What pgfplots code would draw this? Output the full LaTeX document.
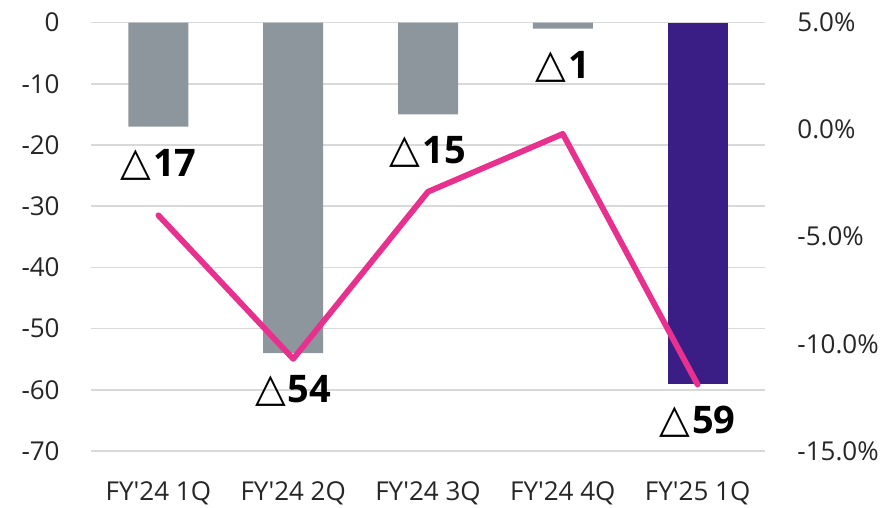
\documentclass[border=0pt]{standalone}
\usepackage{pgfplots}
\pgfplotsset{compat=1.18}
\usepackage{fontspec}
\setmainfont{Open Sans}
\newfontfamily\segoe{Open Sans}
\newfontfamily\symfont{DejaVu Sans}
\definecolor{bargray}{RGB}{142,150,157}
\definecolor{barpurple}{RGB}{59,30,133}
\definecolor{linepink}{RGB}{232,49,142}
\definecolor{gridgray}{RGB}{217,217,217}
\newcommand{\tri}{{\symfont\fontsize{20}{20}\selectfont\raisebox{0.5pt}{\char"25B3}}\hspace{1pt}}
\begin{document}
\begin{tikzpicture}
\begin{axis}[
  at={(45.5pt,28.5pt)}, anchor=south west,
  scale only axis, width=337pt, height=214.25pt,
  xmin=-0.5, xmax=4.5, ymin=-70, ymax=0,
  axis line style={draw=none},
  tick style={draw=none},
  ymajorgrids, grid style={gridgray, line width=0.8pt},
  xtick={0,1,2,3,4},
  xticklabels={FY\char"27 24 1Q, FY\char"27 24 2Q, FY\char"27 24 3Q, FY\char"27 24 4Q, FY\char"27 25 1Q},
  ytick={-70,-60,-50,-40,-30,-20,-10,0},
  yticklabels={-70,-60,-50,-40,-30,-20,-10,0},
  tick label style={font=\segoe\fontsize{13}{15}\selectfont, text=black!85, inner sep=0pt},
  yticklabel style={anchor=east, xshift=-15.5pt},
  xticklabel style={anchor=base, yshift=-20.5pt},
  ybar, bar width=30pt, bar shift=0pt,
  clip=false,
]
\addplot[fill=bargray, draw=none, bar shift=0pt] coordinates {(0,-17) (1,-54) (2,-15) (3,-1)};
\addplot[fill=barpurple, draw=none, bar shift=0pt] coordinates {(4,-59)};
\end{axis}
\begin{axis}[
  at={(45.5pt,28.5pt)}, anchor=south west,
  scale only axis, width=337pt, height=214.25pt,
  xmin=-0.5, xmax=4.5, ymin=-15, ymax=5,
  axis line style={draw=none},
  tick style={draw=none},
  axis y line*=right, axis x line=none,
  ytick={-15,-10,-5,0,5},
  yticklabels={-15.0\%,-10.0\%,-5.0\%,0.0\%,5.0\%},
  tick label style={font=\segoe\fontsize{13}{15}\selectfont, text=black!85, inner sep=0pt},
  yticklabel style={anchor=west, xshift=16pt},
  clip=false,
]
\addplot[linepink, line width=2.9pt, line cap=round, line join=round, mark=none]
  coordinates {(0,-4.0) (1,-10.7) (2,-2.9) (3,-0.2) (4,-11.9)};
\end{axis}
\begin{axis}[
  at={(45.5pt,28.5pt)}, anchor=south west,
  scale only axis, width=337pt, height=214.25pt,
  xmin=-0.5, xmax=4.5, ymin=-70, ymax=0,
  hide axis, clip=false,
  nodes near coords, point meta=explicit symbolic,
  every node near coord/.style={anchor=center, yshift=-19pt, font=\segoe\bfseries\fontsize{19}{19}\selectfont, text=black},
]
\addplot[draw=none, mark=none] table[meta=lab] {
x y lab
0 -17 {\tri17}
1 -54 {\tri54}
2 -15 {\tri15}
3 -1 {\tri1}
4 -59 {\tri59}
};
\end{axis}
\pgfresetboundingbox
\path[use as bounding box] (0,0) rectangle (442pt,254pt);
\end{tikzpicture}
\end{document}
